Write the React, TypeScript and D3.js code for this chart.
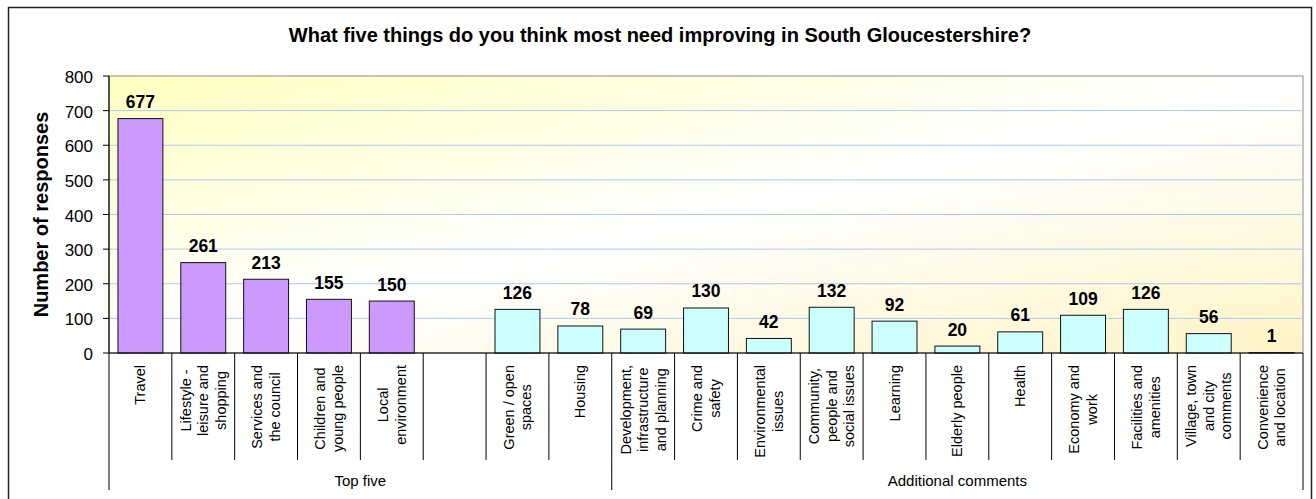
import * as d3 from "d3";

const TITLE = "What five things do you think most need improving in South Gloucestershire?";
const Y_TITLE = "Number of responses";

// category labels, already broken into lines like the original
const categories: string[][] = [
  ["Travel"],
  ["Lifestyle -", "leisure and", "shopping"],
  ["Services and", "the council"],
  ["Children and", "young people"],
  ["Local", "environment"],
  [],
  ["Green / open", "spaces"],
  ["Housing"],
  ["Development,", "infrastructure", "and planning"],
  ["Crime and", "safety"],
  ["Environmental", "issues"],
  ["Community,", "people and", "social issues"],
  ["Learning"],
  ["Elderly people"],
  ["Health"],
  ["Economy and", "work"],
  ["Facilities and", "amenities"],
  ["Village, town", "and city", "comments"],
  ["Convenience", "and location"],
];

const topFiveValues = [677, 261, 213, 155, 150, null, null, null, null, null, null, null, null, null, null, null, null, null, null];
const otherValues = [null, null, null, null, null, null, 126, 78, 69, 130, 42, 132, 92, 20, 61, 109, 126, 56, 1];

const groupLabels = ["Top five", "Additional comments"];
const groupSizes = [8, 11];

const yTicks = [0, 100, 200, 300, 400, 500, 600, 700, 800];

const W = 1316;
const H = 499;
const FONT = "'Liberation Sans', Arial, sans-serif";
const CAT_SIZE = 14.5;

const plot = { left: 109, right: 1303, top: 76, bottom: 353 };

const ctx = document.createElement("canvas").getContext("2d");
const measure = (s: string, size: number) => {
  if (!ctx) return s.length * size * 0.5;
  ctx.font = `${size}px 'Liberation Sans', Arial, sans-serif`;
  return ctx.measureText(s).width;
};

export default function App() {
  const idx = categories.map((_, i) => String(i));

  const x = d3
    .scaleBand<string>()
    .domain(idx)
    .range([plot.left, plot.right])
    .paddingInner(0.285)
    .paddingOuter(0.1425);
  const step = x.step();

  const y = d3.scaleLinear().domain([0, 800]).range([plot.bottom, plot.top]);

  // slot boundaries, group boundaries
  const bounds = d3.range(categories.length + 1).map((i) => plot.left + i * step);
  const groupEdges = Array.from(d3.cumsum(groupSizes));
  const groupStarts = [0, ...groupEdges.slice(0, -1)];

  const bars = [
    { values: topFiveValues, fill: "#CC99FF" },
    { values: otherValues, fill: "#CCFFFF" },
  ];

  return (
    <svg
      width={W}
      height={H}
      style={{ position: "absolute", left: 0, top: 0, background: "#fff" }}
      fontFamily={FONT}
    >
      <defs>
        <linearGradient id="plotBg" x1="0" y1="0" x2="1" y2="1">
          <stop offset="0%" stopColor="#FFFFC0" />
          <stop offset="50%" stopColor="#FFFFFF" />
          <stop offset="100%" stopColor="#FFF4C6" />
        </linearGradient>
      </defs>

      {/* outer frame */}
      <rect x={8.5} y={7.5} width={1303} height={520} fill="#fff" stroke="#222" strokeWidth={1.5} />

      <text x={660} y={42} textAnchor="middle" fontSize={20} fontWeight="bold" fill="#000">
        {TITLE}
      </text>

      {/* plot area */}
      <rect
        x={plot.left}
        y={plot.top}
        width={plot.right - plot.left}
        height={plot.bottom - plot.top}
        fill="url(#plotBg)"
        stroke="#8c8c8c"
        strokeWidth={1}
      />
      {yTicks.slice(1, -1).map((t) => (
        <line key={t} x1={plot.left} x2={plot.right} y1={y(t)} y2={y(t)} stroke="#A6CCF2" strokeWidth={1} />
      ))}

      {/* bars */}
      {bars.map((s, si) =>
        s.values.map((v, i) =>
          v == null ? null : (
            <rect
              key={`${si}-${i}`}
              x={x(String(i))}
              y={y(v)}
              width={x.bandwidth()}
              height={y(0) - y(v)}
              fill={s.fill}
              stroke="#111"
              strokeWidth={1}
            />
          )
        )
      )}
      {bars.map((s, si) =>
        s.values.map((v, i) =>
          v == null ? null : (
            <text
              key={`l${si}-${i}`}
              x={(x(String(i)) ?? 0) + x.bandwidth() / 2}
              y={y(v) - 10.5}
              textAnchor="middle"
              fontSize={17.5}
              fontWeight="bold"
              fill="#000"
            >
              {v}
            </text>
          )
        )
      )}

      {/* y axis */}
      <line x1={plot.left} x2={plot.left} y1={plot.top} y2={plot.bottom} stroke="#000" strokeWidth={1.2} />
      {yTicks.map((t) => (
        <g key={t}>
          <line x1={plot.left - 6} x2={plot.left} y1={y(t)} y2={y(t)} stroke="#000" />
          <text x={93} y={y(t) + 7} textAnchor="end" fontSize={17} fill="#000">
            {t}
          </text>
        </g>
      ))}
      <text
        transform={`translate(47.5, ${(plot.top + plot.bottom) / 2}) rotate(-90)`}
        textAnchor="middle"
        fontSize={20}
        fontWeight="bold"
        fill="#000"
      >
        {Y_TITLE}
      </text>

      {/* x axis with category separators */}
      <line x1={plot.left} x2={plot.right} y1={plot.bottom} y2={plot.bottom} stroke="#000" strokeWidth={1.2} />
      {bounds.map((bx, i) => {
        const isGroup = i === 0 || groupEdges.includes(i);
        return (
          <line
            key={i}
            x1={bx}
            x2={bx}
            y1={plot.bottom}
            y2={isGroup ? 490 : 460}
            stroke="#000"
            strokeWidth={1}
          />
        );
      })}

      {/* category labels, rotated, block anchored at the top */}
      {categories.map((lines, i) => {
        if (!lines.length) return null;
        const cx = (x(String(i)) ?? 0) + x.bandwidth() / 2;
        const maxLen = d3.max(lines, (l) => measure(l, CAT_SIZE)) ?? 0;
        const cy = 365 + maxLen / 2;
        const n = lines.length;
        return lines.map((l, j) => {
          const lx = cx + 5 + (j - (n - 1) / 2) * 17.5;
          return (
            <text
              key={`${i}-${j}`}
              transform={`translate(${lx}, ${cy}) rotate(-90)`}
              textAnchor="middle"
              fontSize={CAT_SIZE}
              fill="#000"
            >
              {l}
            </text>
          );
        });
      })}

      {/* group labels */}
      {groupLabels.map((g, gi) => (
        <text
          key={g}
          x={(bounds[groupStarts[gi]] + bounds[groupEdges[gi]]) / 2}
          y={486}
          textAnchor="middle"
          fontSize={15}
          fill="#000"
        >
          {g}
        </text>
      ))}
    </svg>
  );
}
